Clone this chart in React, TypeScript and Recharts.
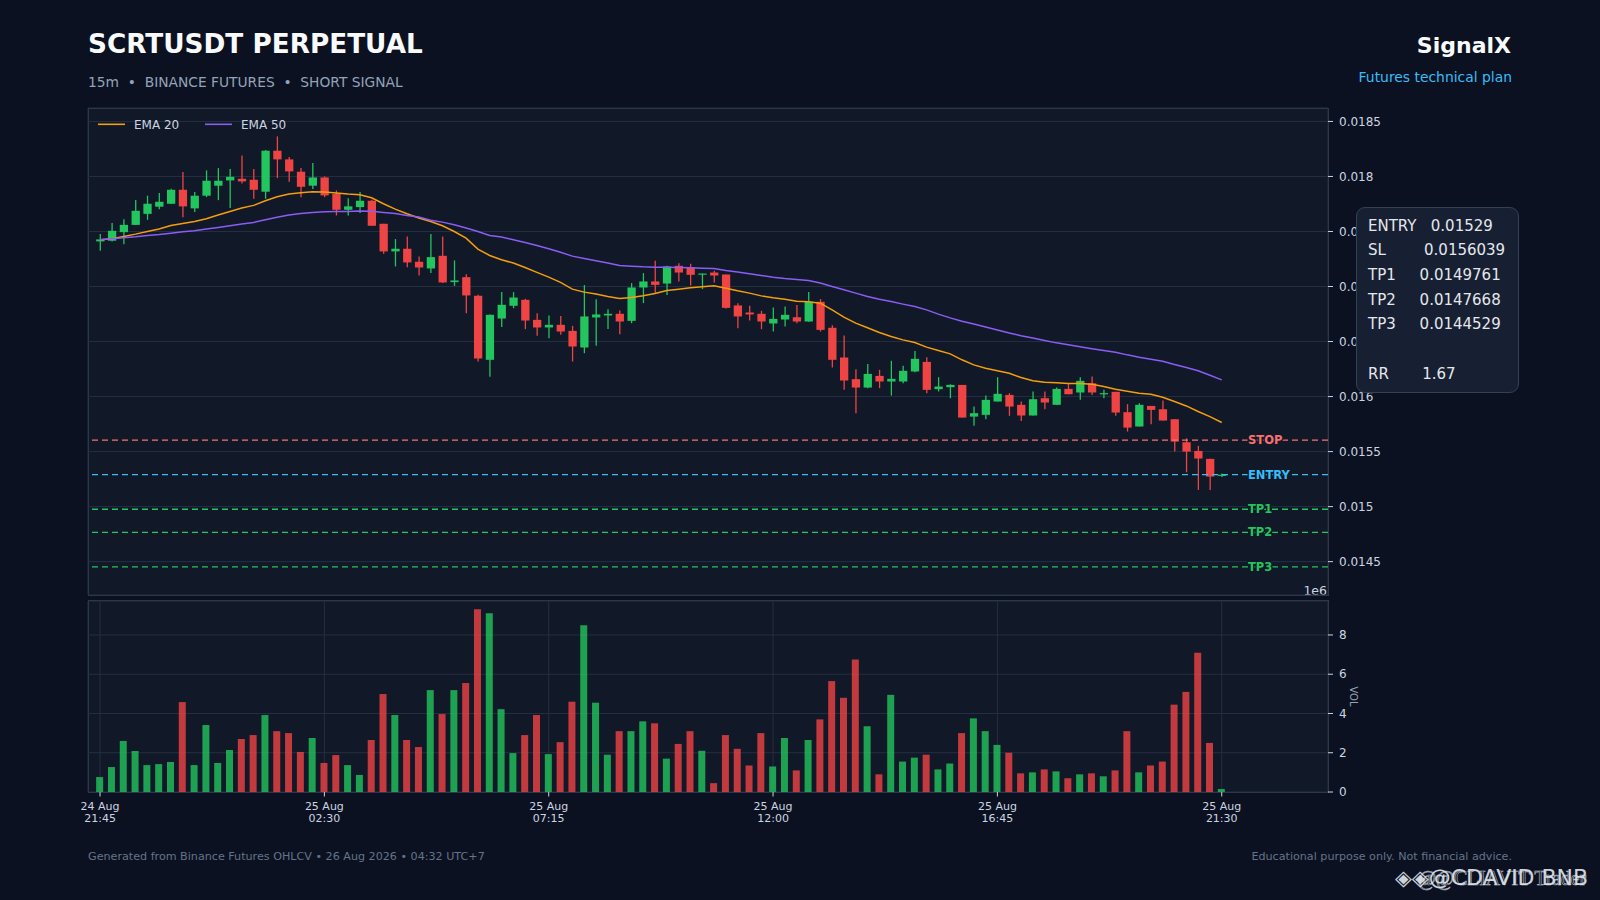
import React from "react";
import {
  ComposedChart,
  Bar,
  Line,
  XAxis,
  YAxis,
  CartesianGrid,
  ReferenceLine,
  Cell,
} from "recharts";

// candles, 15m, 24 Aug 21:45 -> 25 Aug 21:30
const opens = [
  0.01741, 0.017416, 0.017494, 0.01756, 0.01766, 0.017725, 0.017752, 0.017879, 0.01771, 0.017825,
  0.017916, 0.017964, 0.017979, 0.01797, 0.017861, 0.018234, 0.018155, 0.018043, 0.017916, 0.017991,
  0.01784, 0.017697, 0.017722, 0.017779, 0.01757, 0.017319, 0.017343, 0.017225, 0.017164, 0.017279,
  0.01704, 0.017085, 0.016916, 0.016334, 0.016709, 0.016825, 0.016879, 0.016697, 0.016628, 0.016652,
  0.016597, 0.016446, 0.016719, 0.016737, 0.016752, 0.016688, 0.016991, 0.017046, 0.017027, 0.017188,
  0.017173, 0.017109, 0.017127, 0.017109, 0.016828, 0.016764, 0.016752, 0.016664, 0.0167, 0.016721,
  0.016682, 0.016861, 0.016625, 0.016355, 0.016158, 0.016082, 0.016188, 0.016137, 0.016137, 0.016228,
  0.016315, 0.016067, 0.016085, 0.016106, 0.015818, 0.015834, 0.015955, 0.016015, 0.015925, 0.015828,
  0.015985, 0.015925, 0.01607, 0.016037, 0.016121, 0.016025, 0.016043, 0.015858, 0.015728, 0.015915,
  0.015885, 0.015794, 0.015585, 0.015506, 0.015434, 0.015285,
];
const highs = [
  0.017476, 0.017576, 0.017612, 0.017785, 0.017825, 0.017849, 0.017888, 0.01804, 0.017858, 0.018055,
  0.018076, 0.018067, 0.018191, 0.018067, 0.01824, 0.018364, 0.018176, 0.018076, 0.018122, 0.018,
  0.017873, 0.017803, 0.017858, 0.017788, 0.01757, 0.017431, 0.017455, 0.017273, 0.017476, 0.017455,
  0.017237, 0.017112, 0.016925, 0.016746, 0.016949, 0.016949, 0.016888, 0.016758, 0.016737, 0.016731,
  0.016643, 0.017013, 0.016885, 0.016794, 0.016782, 0.017031, 0.017122, 0.017234, 0.017188, 0.017212,
  0.017206, 0.017118, 0.017143, 0.017109, 0.016849, 0.016825, 0.016779, 0.01681, 0.016819, 0.016831,
  0.016949, 0.016885, 0.016649, 0.016555, 0.016249, 0.016297, 0.016243, 0.016325, 0.016279, 0.016415,
  0.016358, 0.016176, 0.016112, 0.016106, 0.015909, 0.01601, 0.016176, 0.016031, 0.015955, 0.016046,
  0.016046, 0.016082, 0.016121, 0.016176, 0.016182, 0.016061, 0.016043, 0.015931, 0.01594, 0.015915,
  0.015964, 0.015794, 0.015621, 0.015552, 0.015434, 0.0153,
];
const lows = [
  0.017325, 0.01741, 0.017385, 0.01756, 0.017606, 0.017703, 0.01775, 0.01763, 0.017676, 0.017812,
  0.017785, 0.017713, 0.017937, 0.017797, 0.017797, 0.017985, 0.017952, 0.017812, 0.017885, 0.017812,
  0.017646, 0.017646, 0.017667, 0.017552, 0.017297, 0.017182, 0.017176, 0.0171, 0.017122, 0.017031,
  0.017006, 0.016758, 0.016319, 0.01618, 0.016631, 0.016803, 0.016613, 0.016552, 0.016531, 0.016561,
  0.016319, 0.016394, 0.016461, 0.016613, 0.016567, 0.016667, 0.016849, 0.01694, 0.016924, 0.017046,
  0.017009, 0.016976, 0.017037, 0.0168, 0.016621, 0.016691, 0.016612, 0.016591, 0.016637, 0.016667,
  0.01668, 0.016591, 0.016264, 0.016061, 0.015849, 0.016076, 0.016076, 0.016009, 0.016122, 0.016222,
  0.016031, 0.016046, 0.015985, 0.015809, 0.015734, 0.015794, 0.015955, 0.015825, 0.015779, 0.015828,
  0.015885, 0.015925, 0.016021, 0.01597, 0.016015, 0.015985, 0.015825, 0.015682, 0.015728, 0.015749,
  0.015782, 0.0155, 0.015312, 0.015152, 0.015152, 0.01527,
];
const closes = [
  0.017428, 0.017506, 0.01756, 0.017688, 0.017752, 0.01777, 0.017879, 0.017728, 0.017825, 0.017961,
  0.017961, 0.017997, 0.017955, 0.017879, 0.018234, 0.018155, 0.018046, 0.017906, 0.017991, 0.017828,
  0.017697, 0.017728, 0.017779, 0.017552, 0.017319, 0.017343, 0.017219, 0.017173, 0.017267, 0.017037,
  0.017055, 0.016919, 0.016346, 0.016743, 0.016834, 0.0169, 0.016691, 0.016628, 0.016652, 0.016591,
  0.016455, 0.016728, 0.016746, 0.016752, 0.016682, 0.016991, 0.017046, 0.017015, 0.017182, 0.017127,
  0.017106, 0.017118, 0.0171, 0.016806, 0.016728, 0.016746, 0.016682, 0.016706, 0.016743, 0.016682,
  0.016861, 0.016606, 0.016334, 0.016146, 0.016082, 0.016206, 0.016137, 0.016161, 0.016234, 0.016343,
  0.016061, 0.016091, 0.016106, 0.015809, 0.015849, 0.01597, 0.016025, 0.015909, 0.015828, 0.015976,
  0.015946, 0.01607, 0.016021, 0.016143, 0.016037, 0.016031, 0.015855, 0.015718, 0.015925, 0.015879,
  0.015782, 0.015591, 0.0155, 0.015437, 0.015273, 0.01529,
];
const ema20 = [
  0.017425, 0.017434, 0.017455, 0.017476, 0.0175, 0.017522, 0.017555, 0.017573, 0.017591, 0.017616,
  0.017649, 0.017682, 0.017713, 0.017737, 0.017779, 0.017816, 0.01784, 0.017852, 0.017861, 0.017858,
  0.017849, 0.01784, 0.017834, 0.017806, 0.017752, 0.017703, 0.017661, 0.017622, 0.017591, 0.017552,
  0.0175, 0.01744, 0.01734, 0.017282, 0.017243, 0.017213, 0.017173, 0.017128, 0.017085, 0.017037,
  0.016976, 0.016949, 0.016931, 0.016909, 0.016891, 0.0169, 0.016916, 0.016937, 0.016964, 0.016976,
  0.016988, 0.016997, 0.017006, 0.016985, 0.016961, 0.01694, 0.016915, 0.016897, 0.016885, 0.016867,
  0.016861, 0.016849, 0.016788, 0.016721, 0.016667, 0.016625, 0.016582, 0.016546, 0.016515, 0.016491,
  0.016449, 0.016418, 0.016388, 0.016334, 0.016288, 0.016258, 0.016234, 0.016212, 0.016173, 0.016143,
  0.016131, 0.016125, 0.016118, 0.016118, 0.016112, 0.016091, 0.016067, 0.016049, 0.016031, 0.016021,
  0.015994, 0.015955, 0.015915, 0.015864, 0.015818, 0.015764,
];
const ema50 = [
  0.017425, 0.017434, 0.017443, 0.017452, 0.017464, 0.017473, 0.017485, 0.017497, 0.017506, 0.017522,
  0.017537, 0.017552, 0.017567, 0.017582, 0.017606, 0.01763, 0.017649, 0.017664, 0.017673, 0.017679,
  0.017682, 0.017682, 0.017685, 0.017684, 0.017673, 0.017664, 0.017646, 0.017631, 0.017603, 0.017585,
  0.017561, 0.017531, 0.0175, 0.017464, 0.017449, 0.017425, 0.0174, 0.017373, 0.017343, 0.017312,
  0.017276, 0.017255, 0.017234, 0.017213, 0.017191, 0.017185, 0.017179, 0.017176, 0.017176, 0.017173,
  0.01717, 0.017167, 0.017164, 0.017146, 0.017131, 0.017115, 0.0171, 0.017085, 0.017073, 0.017064,
  0.017055, 0.017031, 0.017, 0.01697, 0.01694, 0.016909, 0.016885, 0.016864, 0.01684, 0.016818,
  0.016788, 0.016749, 0.016715, 0.016685, 0.01666, 0.016632, 0.016605, 0.016578, 0.016553, 0.016532,
  0.01651, 0.016488, 0.01647, 0.016452, 0.016435, 0.016418, 0.016403, 0.016379, 0.016358, 0.01634,
  0.016321, 0.016291, 0.016264, 0.016234, 0.016194, 0.016152,
];
// volume in millions (axis offset 1e6)
const volumes = [
  0.76, 1.27, 2.6, 2.09, 1.37, 1.42, 1.53, 4.58, 1.37, 3.41,
  1.48, 2.14, 2.7, 2.9, 3.92, 3.1, 3.0, 2.04, 2.75, 1.48,
  1.88, 1.37, 0.87, 2.65, 4.99, 3.92, 2.65, 2.29, 5.19, 3.97,
  5.19, 5.55, 9.31, 9.11, 4.22, 1.98, 2.9, 3.92, 1.93, 2.54,
  4.6, 8.5, 4.55, 1.9, 3.1, 3.1, 3.6, 3.5, 1.7, 2.45,
  3.1, 2.1, 0.45, 2.9, 2.2, 1.35, 3.0, 1.3, 2.75, 1.1,
  2.65, 3.7, 5.65, 4.8, 6.75, 3.35, 0.9, 4.95, 1.55, 1.75,
  1.9, 1.15, 1.45, 3.0, 3.75, 3.1, 2.4, 2.0, 0.95, 1.0,
  1.15, 1.05, 0.7, 0.9, 0.95, 0.8, 1.1, 3.1, 1.0, 1.35,
  1.55, 4.45, 5.1, 7.1, 2.5, 0.15,
];

const xTickIdx = [0, 19, 38, 57, 76, 95];
const xTickDates = ["24 Aug", "25 Aug", "25 Aug", "25 Aug", "25 Aug", "25 Aug"];
const xTickTimes = ["21:45", "02:30", "07:15", "12:00", "16:45", "21:30"];
const priceTicks = [0.0145, 0.015, 0.0155, 0.016, 0.0165, 0.017, 0.0175, 0.018, 0.0185];
const volTicks = [0, 2, 4, 6, 8];

const levelNames = ["STOP", "ENTRY", "TP1", "TP2", "TP3"];
const levelValues = [0.0156039, 0.01529, 0.0149761, 0.0147668, 0.0144529];
const infoNames = ["ENTRY", "SL", "TP1", "TP2", "TP3"];
const infoValues = ["0.01529", "0.0156039", "0.0149761", "0.0147668", "0.0144529"];
const riskReward = "1.67";

const BG = "#0b1120";
const PANEL = "#111827";
const GRID = "#243042";
const BORDER = "#334155";
const TEXT = "#cbd5e1";
const UP = "#22c55e";
const DOWN = "#ef4444";
const FONT = "'DejaVu Sans', sans-serif";
const levelColors = ["#f87171", "#38bdf8", "#22c55e", "#22c55e", "#22c55e"];
const infoGaps = [3, 8, 5, 5, 5];

const rows = opens.map((o, i) => ({
  i,
  open: o,
  high: highs[i],
  low: lows[i],
  close: closes[i],
  range: [lows[i], highs[i]],
  ema20: ema20[i],
  ema50: ema50[i],
  vol: volumes[i],
}));

function Candle(props: any) {
  const { x, y, width, height, payload } = props;
  if (!payload || x == null) return <g />;
  const { open, close, high, low } = payload;
  const color = close >= open ? UP : DOWN;
  const top = Math.min(y, y + height);
  const h = Math.abs(height);
  const span = high - low || 1e-9;
  const yAt = (v: number) => top + ((high - v) / span) * h;
  const bTop = yAt(Math.max(open, close));
  const bBot = yAt(Math.min(open, close));
  const cx = x + width / 2;
  return (
    <g>
      <line x1={cx} x2={cx} y1={top} y2={top + h} stroke={color} strokeWidth={1.3} />
      <rect x={x} y={bTop} width={width} height={Math.max(bBot - bTop, 1.2)} fill={color} />
    </g>
  );
}

function TimeTick(props: any) {
  const { x, y, payload } = props;
  const k = xTickIdx.indexOf(payload.value);
  return (
    <text x={x} y={y} textAnchor="middle" fill={TEXT} fontSize={11} fontFamily={FONT}>
      <tspan x={x} dy={11.5}>{xTickDates[k]}</tspan>
      <tspan x={x} dy={11.5}>{xTickTimes[k]}</tspan>
    </text>
  );
}

function levelLabel(k: number) {
  return (props: any) => {
    const vb = props.viewBox || {};
    return (
      <text
        x={vb.x + 1160}
        y={vb.y}
        dy="0.36em"
        fill={levelColors[k]}
        stroke={PANEL}
        strokeWidth={3}
        paintOrder="stroke"
        fontSize={11.5}
        fontWeight="bold"
        fontFamily={FONT}
      >
        {levelNames[k]}
      </text>
    );
  };
}

function VolLabel(props: any) {
  const vb = props.viewBox || {};
  const cx = vb.x + 25;
  const cy = vb.y + vb.height / 2;
  return (
    <text
      x={cx}
      y={cy}
      transform={`rotate(90 ${cx} ${cy})`}
      textAnchor="middle"
      dy="0.35em"
      fill="#94a3b8"
      fontSize={10}
      fontFamily={FONT}
    >
      VOL
    </text>
  );
}

const axisTick = { fill: TEXT, fontSize: 12, fontFamily: FONT };

export default function App() {
  return (
    <div
      style={{
        position: "absolute",
        left: 0,
        top: 0,
        width: 1600,
        height: 900,
        background: BG,
        overflow: "hidden",
        fontFamily: FONT,
      }}
    >
      {/* panel backgrounds */}
      <div
        style={{
          position: "absolute",
          left: 88,
          top: 108,
          width: 1241,
          height: 488,
          background: PANEL,
          border: `1px solid ${BORDER}`,
          boxSizing: "border-box",
        }}
      />
      <div
        style={{
          position: "absolute",
          left: 88,
          top: 600,
          width: 1241,
          height: 193,
          background: PANEL,
          border: `1px solid ${BORDER}`,
          boxSizing: "border-box",
        }}
      />

      <svg
        width={1600}
        height={900}
        style={{ position: "absolute", left: 0, top: 0, pointerEvents: "none" }}
        fontFamily={FONT}
      >
        <text x={88} y={53.3} fontSize={26.3} fontWeight="bold" fill="#f8fafc">
          SCRTUSDT PERPETUAL
        </text>
        <text x={88} y={86.7} fontSize={13.8} fill="#94a3b8" xmlSpace="preserve" style={{ whiteSpace: "pre" }}>
          {"15m  \u2022  BINANCE FUTURES  \u2022  SHORT SIGNAL"}
        </text>
        <text x={1511} y={53.3} fontSize={22} fontWeight="bold" fill="#f8fafc" textAnchor="end">
          SignalX
        </text>
        <text x={1512} y={82.3} fontSize={13.9} fill="#38bdf8" textAnchor="end">
          Futures technical plan
        </text>
        <text x={88} y={860} fontSize={11.15} fill="#64748b">
          {"Generated from Binance Futures OHLCV \u2022 26 Aug 2026 \u2022 04:32 UTC+7"}
        </text>
        <text x={1512} y={860.3} fontSize={11.15} fill="#64748b" textAnchor="end">
          Educational purpose only. Not financial advice.
        </text>
        <text x={1327} y={594.5} fontSize={12.5} fill={TEXT} textAnchor="end">
          1e6
        </text>
      </svg>

      <div style={{ position: "absolute", left: 0, top: 0 }}>
        <ComposedChart
          width={1400}
          height={600}
          data={rows}
          margin={{ top: 108, right: 0, bottom: 0, left: 88 }}
        >
          <CartesianGrid stroke={GRID} strokeWidth={1} />
          <XAxis
            type="number"
            dataKey="i"
            domain={[-1.02, 104]}
            ticks={xTickIdx}
            allowDataOverflow
            height={5}
            tick={false}
            tickSize={4}
            tickLine={{ stroke: TEXT }}
            axisLine={false}
          />
          <YAxis
            orientation="right"
            width={72}
            domain={[0.014197, 0.018622]}
            allowDataOverflow
            ticks={priceTicks}
            tickFormatter={(v: number) => String(v)}
            tick={axisTick}
            tickSize={5}
            tickMargin={6}
            tickLine={{ stroke: TEXT }}
            axisLine={false}
          />
          {levelValues.map((v, k) => (
            <ReferenceLine
              key={levelNames[k]}
              y={v}
              stroke={levelColors[k]}
              strokeWidth={1.3}
              strokeDasharray="6 4"
              label={levelLabel(k)}
            />
          ))}
          <Line
            dataKey="ema20"
            type="linear"
            stroke="#f59e0b"
            strokeWidth={1.5}
            dot={false}
            isAnimationActive={false}
          />
          <Line
            dataKey="ema50"
            type="linear"
            stroke="#8b5cf6"
            strokeWidth={1.5}
            dot={false}
            isAnimationActive={false}
          />
          <Bar
            dataKey="range"
            barSize={8.3}
            shape={(p: any) => <Candle {...p} />}
            isAnimationActive={false}
          />
        </ComposedChart>
      </div>

      <div style={{ position: "absolute", left: 0, top: 600 }}>
        <ComposedChart
          width={1400}
          height={240}
          data={rows}
          margin={{ top: 1, right: 0, bottom: 0, left: 88 }}
        >
          <CartesianGrid stroke={GRID} strokeWidth={1} />
          <XAxis
            type="number"
            dataKey="i"
            domain={[-1.02, 104]}
            ticks={xTickIdx}
            allowDataOverflow
            height={48}
            tick={<TimeTick />}
            tickSize={4.5}
            tickMargin={2}
            tickLine={{ stroke: TEXT }}
            axisLine={false}
          />
          <YAxis
            orientation="right"
            width={72}
            domain={[0, 9.73]}
            allowDataOverflow
            ticks={volTicks}
            tick={axisTick}
            tickSize={5}
            tickMargin={6}
            tickLine={{ stroke: TEXT }}
            axisLine={false}
            label={<VolLabel />}
          />
          <Bar dataKey="vol" barSize={7} isAnimationActive={false}>
            {rows.map((r) => (
              <Cell key={r.i} fill={r.close >= r.open ? UP : DOWN} fillOpacity={0.8} />
            ))}
          </Bar>
        </ComposedChart>
      </div>

      {/* legend */}
      <svg
        width={300}
        height={40}
        style={{ position: "absolute", left: 88, top: 108, pointerEvents: "none" }}
        fontFamily={FONT}
      >
        <line x1={10} x2={37} y1={16.3} y2={16.3} stroke="#f59e0b" strokeWidth={1.6} />
        <text x={46} y={20.6} fontSize={12} fill={TEXT}>EMA 20</text>
        <line x1={117} x2={144} y1={16.3} y2={16.3} stroke="#8b5cf6" strokeWidth={1.6} />
        <text x={153} y={20.6} fontSize={12} fill={TEXT}>EMA 50</text>
      </svg>

      {/* trade plan box */}
      <div
        style={{
          position: "absolute",
          left: 1356,
          top: 207,
          width: 163,
          height: 186,
          background: "#172033",
          border: `1px solid ${BORDER}`,
          borderRadius: 9,
          boxSizing: "border-box",
        }}
      />
      <svg
        width={170}
        height={200}
        style={{ position: "absolute", left: 1356, top: 200, pointerEvents: "none" }}
        fontFamily={FONT}
      >
        {infoNames.map((n, k) => (
          <text
            key={n}
            x={12}
            y={30.7 + k * 24.65}
            fontSize={15}
            fill="#e5e7eb"
            xmlSpace="preserve"
            style={{ whiteSpace: "pre" }}
          >
            {n + " ".repeat(infoGaps[k]) + infoValues[k]}
          </text>
        ))}
        <text x={12} y={178.7} fontSize={15} fill="#e5e7eb" xmlSpace="preserve" style={{ whiteSpace: "pre" }}>
          {"RR" + " ".repeat(7) + riskReward}
        </text>
      </svg>

      {/* watermark */}
      <svg
        width={220}
        height={50}
        style={{ position: "absolute", left: 1380, top: 855, pointerEvents: "none" }}
      >
        <text
          x={15}
          y={30}
          fontSize={21}
          fill="#e2e8f0"
          fontFamily="'DejaVu Sans'"
          opacity={0.9}
          textLength={193}
          lengthAdjust="spacingAndGlyphs"
        >
          {"\u25C8\u25C8@CDAVID BNB"}
        </text>
        <text
          x={38}
          y={30}
          fontSize={21}
          fill="none"
          stroke="#e2e8f0"
          strokeWidth={0.6}
          fontFamily="'Liberation Serif'"
          opacity={0.8}
          textLength={168}
          lengthAdjust="spacingAndGlyphs"
        >
          @@CLIAVIT Trader
        </text>
      </svg>
    </div>
  );
}
